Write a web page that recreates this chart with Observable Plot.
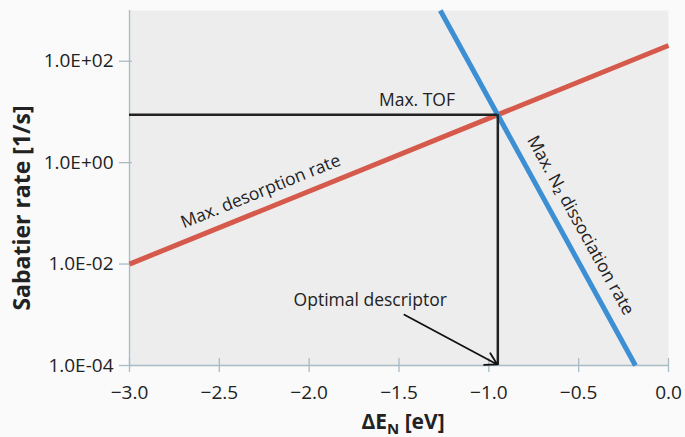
<!DOCTYPE html>
<html><head><meta charset="utf-8">
<script src="https://cdn.jsdelivr.net/npm/d3@7"></script>
<script src="https://cdn.jsdelivr.net/npm/@observablehq/plot@0.6"></script>
<style>body{margin:0;background:#fafafa;}</style>
</head><body><div id="chart"></div>
<script>
const xDomain = [-3, 0];
const yDomain = [1e-4, 1e3];
const xTicks = [-3, -2.5, -2, -1.5, -1, -0.5, 0];
const yTicks = [1e-4, 1e-2, 1e0, 1e2];
const desorptionX = [-3, 0];
const desorptionRate = [0.01, 204];
const dissociationX = [-1.27, -0.184];
const dissociationRate = [1000, 1e-4];
const optimalDescriptor = -0.95;
const maxTOF = 8.8;
const annotations = [
  {text: "Max. TOF", x: -1.40, y: 16.8, rotate: 0},
  {text: "Max. desorption rate", x: -2.27, y: 0.27, rotate: -22},
  {text: "Max. N₂ dissociation rate", x: -0.49, y: 0.058, rotate: 61},
  {text: "Optimal descriptor", x: -1.66, y: 1.95e-3, rotate: 0}
];
const arrowLink = [{x1: -1.47, y1: 1.0e-3, x2: -0.953, y2: 1.05e-4}];
const xLabel = "ΔEN [eV]";
const yLabel = "Sabatier rate [1/s]";

const desorption = desorptionX.map((x, i) => ({x, y: desorptionRate[i]}));
const dissociation = dissociationX.map((x, i) => ({x, y: dissociationRate[i]}));

const axisColor = "#a9bcc6";
const fmtY = d => { const e = Math.round(Math.log10(d)); return "1.0E" + (e < 0 ? "-" : "+") + String(Math.abs(e)).padStart(2, "0"); };
const fmtX = d => d === 0 ? "0.0" : d.toFixed(1).replace("-", "−");

const chart = Plot.plot({
  width: 685, height: 437,
  marginLeft: 129, marginRight: 17, marginTop: 10, marginBottom: 72,
  style: {background: "#fafafa", fontFamily: "Open Sans", color: "#222", overflow: "visible"},
  x: {domain: xDomain, label: null},
  y: {type: "log", domain: yDomain, label: null},
  marks: [
    Plot.frame({fill: "#ededed", stroke: null}),
    Plot.ruleX([xDomain[0]], {stroke: axisColor, strokeWidth: 1.3}),
    Plot.ruleY([yDomain[0]], {stroke: axisColor, strokeWidth: 1.3}),
    Plot.ruleX(xTicks, {y1: yDomain[0], y2: yDomain[0], insetTop: -7, insetBottom: -7, stroke: axisColor, strokeWidth: 1.3}),
    Plot.ruleY(yTicks, {x1: xDomain[0], x2: xDomain[0], insetLeft: -10, insetRight: -3, stroke: axisColor, strokeWidth: 1.3}),
    Plot.axisX(xTicks, {tickSize: 0, tickPadding: 20, tickFormat: fmtX, fontSize: 19, label: null}),
    Plot.axisY(yTicks, {tickSize: 0, tickPadding: 16, tickFormat: fmtY, fontSize: 19, label: null}),
    Plot.line(desorption, {x: "x", y: "y", stroke: "#d65a4c", strokeWidth: 5, strokeLinecap: "butt"}),
    Plot.line(dissociation, {x: "x", y: "y", stroke: "#3d8fd4", strokeWidth: 5, strokeLinecap: "butt"}),
    Plot.ruleY([maxTOF], {x1: xDomain[0], x2: optimalDescriptor, stroke: "#222", strokeWidth: 2.5}),
    Plot.ruleX([optimalDescriptor], {y1: yDomain[0], y2: maxTOF, stroke: "#222", strokeWidth: 2.5}),
    Plot.arrow(arrowLink, {x1: "x1", y1: "y1", x2: "x2", y2: "y2", stroke: "#111", strokeWidth: 1.8, headLength: 11, bend: 0}),
    Plot.text(annotations, {x: "x", y: "y", text: "text", rotate: "rotate", fontSize: 17.5, fill: "#222"}),
    Plot.text([yLabel], {frameAnchor: "left", textAnchor: "middle", dx: -107, dy: 20, rotate: -90, fontSize: 23, fontWeight: "bold", fill: "#222"}),
    Plot.text([xLabel], {frameAnchor: "bottom", textAnchor: "middle", lineAnchor: "bottom", dy: 63, dx: 4, fontSize: 21, fontWeight: "bold", fill: "#222"})
  ]
});
document.getElementById("chart").append(chart);

// subscript N in the x-axis label
d3.select(chart).selectAll("text").filter(function() { return this.textContent === xLabel; })
  .each(function() {
    const t = d3.select(this);
    t.text(null);
    t.append("tspan").text("ΔE");
    t.append("tspan").attr("font-size", 15).attr("dy", 5).text("N");
    t.append("tspan").attr("dy", -5).text(" [eV]");
  });
</script>
</body></html>
